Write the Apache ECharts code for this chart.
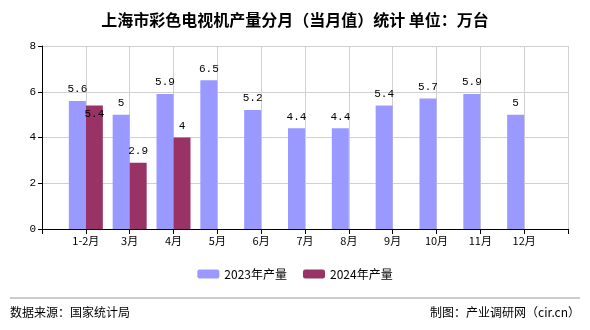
<!DOCTYPE html>
<html>
<head>
<meta charset="utf-8">
<script src="https://cdn.jsdelivr.net/npm/echarts@6/dist/echarts.min.js"></script>
<style>
  html, body { margin: 0; padding: 0; background: #fff; }
  #chart { width: 590px; height: 330px; }
</style>
</head>
<body>
<div id="chart"></div>
<script>
// Monthly colour-TV output in Shanghai (10k units)
const months = ['1-2月', '3月', '4月', '5月', '6月', '7月', '8月', '9月', '10月', '11月', '12月'];
const output2023 = [5.6, 5, 5.9, 6.5, 5.2, 4.4, 4.4, 5.4, 5.7, 5.9, 5];
const output2024 = [5.4, 2.9, 4];
const yTicks = [0, 2, 4, 6, 8];

const seriesNames = ['2023年产量', '2024年产量'];
const colors = ['#9999FF', '#993366'];

// Pad the axis with an empty slot at each end so months sit on the ticks
const axisData = [''].concat(months, ['']);
function padSeries(arr) {
  const out = ['-'];
  for (let i = 0; i < months.length; i++) out.push(i < arr.length ? arr[i] : '-');
  out.push('-');
  return out;
}

const labelFont = { fontFamily: 'Liberation Mono', fontSize: 11, color: '#000' };

const data2024 = padSeries(output2024).map(function (v, i) {
  // first 2024 value sits tucked under its neighbour's label
  if (i === 1) return { value: v, label: { position: 'insideTop', distance: 3 } };
  return v;
});

const chart = echarts.init(document.getElementById('chart'), null, { renderer: 'canvas' });
chart.setOption({
  animation: false,
  backgroundColor: '#fff',
  title: {
    text: '上海市彩色电视机产量分月（当月值）统计 单位：万台',
    left: 'center',
    top: 7,
    textStyle: { fontFamily: 'Noto Sans CJK SC', fontSize: 16, fontWeight: 'bold', color: '#000' }
  },
  legend: {
    data: seriesNames,
    bottom: 45,
    left: 'center',
    itemWidth: 22,
    itemHeight: 9,
    itemGap: 16,
    textStyle: { fontFamily: 'Noto Sans CJK SC', fontSize: 12, color: '#000' }
  },
  grid: { left: 42, right: 22, top: 46, bottom: 101, containLabel: false },
  xAxis: {
    type: 'category',
    data: axisData,
    boundaryGap: false,
    axisLine: { lineStyle: { color: '#000', width: 1 } },
    axisTick: { show: true, length: 5, lineStyle: { color: '#000' } },
    axisLabel: { interval: 0, margin: 6, fontFamily: 'Noto Sans CJK SC', fontSize: 11, color: '#000' },
    splitLine: { show: true, lineStyle: { color: '#d0d0d0' } }
  },
  yAxis: {
    type: 'value',
    min: yTicks[0],
    max: yTicks[yTicks.length - 1],
    interval: yTicks[1] - yTicks[0],
    axisLine: { show: true, lineStyle: { color: '#000', width: 1 } },
    axisTick: { show: true, length: 4, lineStyle: { color: '#000' } },
    axisLabel: { margin: 6, fontFamily: 'Liberation Mono', fontSize: 11, color: '#000' },
    splitLine: { show: true, lineStyle: { color: '#d0d0d0' } }
  },
  series: [
    {
      name: seriesNames[0],
      type: 'bar',
      data: padSeries(output2023),
      barWidth: 17,
      barGap: '0%',
      itemStyle: { color: colors[0] },
      label: Object.assign({ show: true, position: 'top', distance: 6 }, labelFont)
    },
    {
      name: seriesNames[1],
      type: 'bar',
      data: data2024,
      barWidth: 17,
      barGap: '0%',
      itemStyle: { color: colors[1] },
      label: Object.assign({ show: true, position: 'top', distance: 6 }, labelFont)
    }
  ],
  graphic: [
    { type: 'line', shape: { x1: 10, y1: 298, x2: 580, y2: 298 }, style: { stroke: '#999', lineWidth: 1 } },
    { type: 'text', left: 10, top: 306,
      style: { text: '数据来源：国家统计局', font: '12px "Noto Sans CJK SC"', fill: '#000' } },
    { type: 'text', right: 10, top: 306,
      style: { text: '制图：产业调研网（cir.cn）', font: '12px "Noto Sans CJK SC"', fill: '#000' } }
  ]
});
</script>
</body>
</html>
